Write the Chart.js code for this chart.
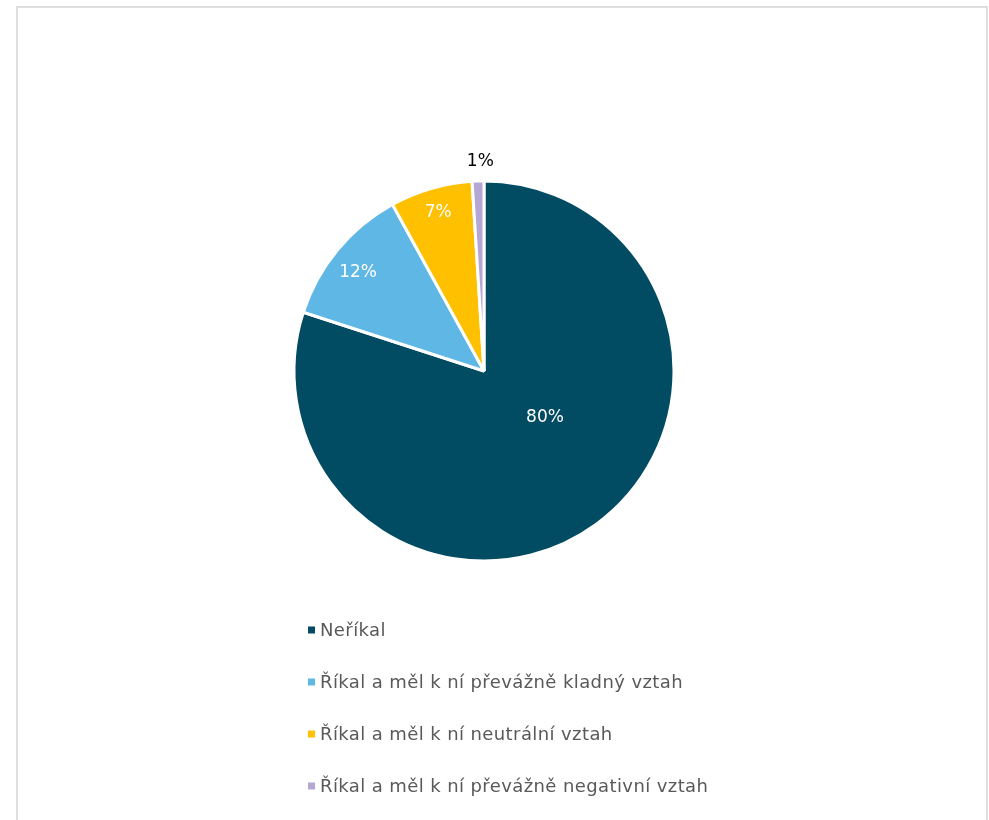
<!DOCTYPE html>
<html>
<head>
<meta charset="utf-8">
<script src="https://cdn.jsdelivr.net/npm/chart.js@4/dist/chart.umd.min.js"></script>
<style>
  html, body { margin:0; padding:0; background:#fff; }
  #wrap { position:relative; width:989px; height:820px; overflow:hidden; }
  #frame { position:absolute; left:16px; top:6px; width:972px; height:840px; border:2px solid #dedede; box-sizing:border-box; }
  #c { position:absolute; left:0; top:0; }
</style>
</head>
<body>
<div id="wrap">
  <div id="frame"></div>
  <canvas id="c" width="989" height="820"></canvas>
</div>
<script>
const categories = [
  'Neříkal',
  'Říkal a měl k ní převážně kladný vztah',
  'Říkal a měl k ní neutrální vztah',
  'Říkal a měl k ní převážně negativní vztah'
];
const shares = [80, 12, 7, 1];
const sliceColors = ['#024c63', '#5fb7e5', '#ffc000', '#b4a7d6'];

// where each value label sits: angle shift from slice middle (deg) and radius fraction
const labelSpots = [
  { da: -16.4, rf: 0.405, color:'#ffffff' },
  { da: -1.7,  rf: 0.84,  color:'#ffffff' },
  { da: 0.1,   rf: 0.87,  color:'#ffffff' },
  { da: 0.8,   rf: 1.105, color:'#000000' }
];

const FONT = '"DejaVu Sans", Verdana, sans-serif';

const valueLabels = {
  id: 'valueLabels',
  afterDatasetsDraw(chart) {
    const ctx = chart.ctx;
    const meta = chart.getDatasetMeta(0);
    ctx.save();
    ctx.font = '17px ' + FONT;
    ctx.textAlign = 'center';
    ctx.textBaseline = 'middle';
    meta.data.forEach((arc, i) => {
      const p = arc.getProps(['x','y','startAngle','endAngle','outerRadius'], true);
      const spot = labelSpots[i];
      const a = (p.startAngle + p.endAngle) / 2 + spot.da * Math.PI / 180;
      const r = p.outerRadius * spot.rf;
      ctx.fillStyle = spot.color;
      ctx.fillText(shares[i] + '%', p.x + Math.cos(a) * r, p.y + Math.sin(a) * r);
    });
    ctx.restore();
  }
};

// one legend entry per row, left aligned under the pie
const columnLegend = {
  id: 'columnLegend',
  afterDraw(chart) {
    const ctx = chart.ctx;
    const x0 = 308, y0 = 630, step = 52, box = 7;
    ctx.save();
    ctx.font = '18px ' + FONT;
    ctx.letterSpacing = '0.4px';
    ctx.textBaseline = 'middle';
    ctx.textAlign = 'left';
    chart.data.labels.forEach((lab, i) => {
      const y = y0 + i * step;
      ctx.fillStyle = sliceColors[i];
      ctx.fillRect(x0, y - box / 2, box, box);
      ctx.fillStyle = '#595959';
      ctx.fillText(lab, x0 + 12, y + 1);
    });
    ctx.restore();
  }
};

new Chart(document.getElementById('c'), {
  type: 'pie',
  data: {
    labels: categories,
    datasets: [{
      data: shares,
      backgroundColor: sliceColors,
      borderColor: '#ffffff',
      borderWidth: 3
    }]
  },
  options: {
    responsive: false,
    animation: false,
    radius: 190,
    layout: { padding: { left: 0, right: 21, top: 180, bottom: 258 } },
    plugins: {
      legend: { display: false },
      tooltip: { enabled: false }
    }
  },
  plugins: [valueLabels, columnLegend]
});
</script>
</body>
</html>
